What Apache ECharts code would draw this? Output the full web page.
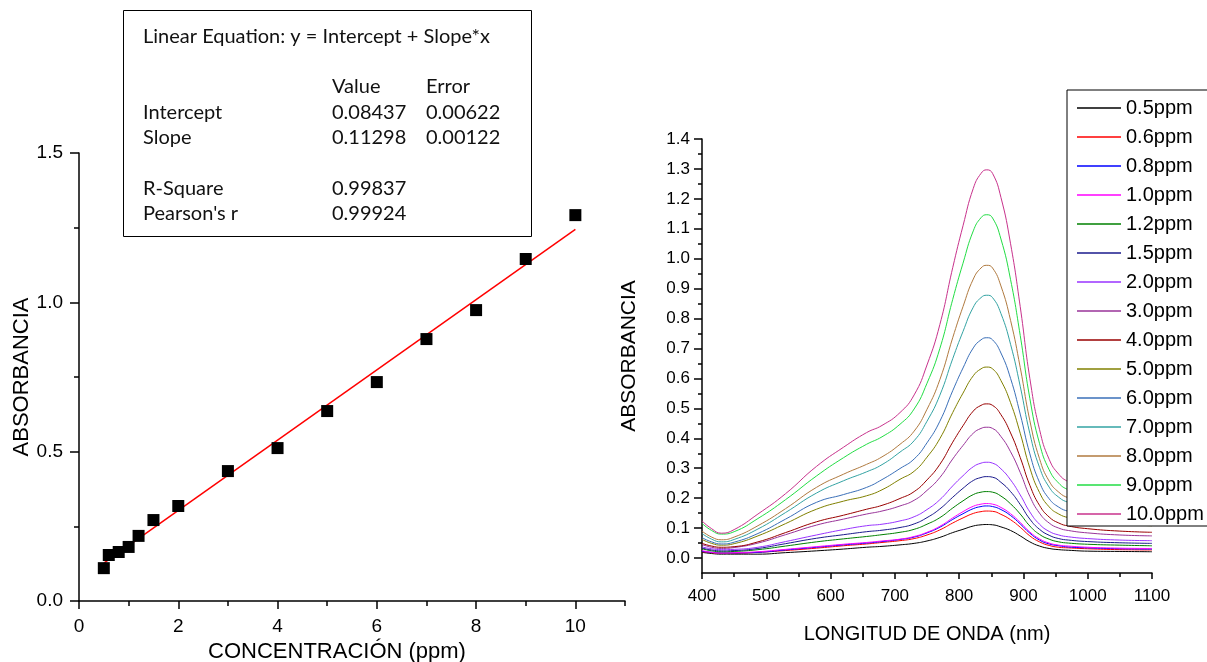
<!DOCTYPE html>
<html><head><meta charset="utf-8">
<script src="https://cdn.jsdelivr.net/npm/echarts@6/dist/echarts.min.js"></script>
<style>html,body{margin:0;padding:0;background:#fff;}#c{width:1207px;height:662px;}</style>
</head><body><div id="c"></div>
<script>
// ---- Left panel: calibration ----
const concentration = [0.5, 0.6, 0.8, 1.0, 1.2, 1.5, 2, 3, 4, 5, 6, 7, 8, 9, 10];
const absorbance = [0.110, 0.154, 0.164, 0.181, 0.218, 0.271, 0.318, 0.435, 0.512, 0.636, 0.733, 0.877, 0.974, 1.145, 1.292];
const fitX = [0.5, 10];
const fitY = [0.127, 1.244];
const leftXTicks = [0, 2, 4, 6, 8, 10];
const leftXMinor = [1, 3, 5, 7, 9, 11];
const fitRows = [
  ['Linear Equation: y = Intercept + Slope*x', '', ''],
  ['', 'Value', 'Error'],
  ['Intercept', '0.08437', '0.00622'],
  ['Slope', '0.11298', '0.00122'],
  ['R-Square', '0.99837', ''],
  ["Pearson's r", '0.99924', '']
];

// ---- Right panel: spectra ----
const wavelength = [400,415,430,450,487,530,578,620,656,680,708,730,750,770,790,806,822,834,843,852,865,880,895,910,925,940,955,970,1000,1050,1100];
const s0_5 = [0.019,0.015,0.013,0.013,0.013,0.018,0.024,0.030,0.036,0.039,0.044,0.049,0.057,0.069,0.085,0.096,0.107,0.111,0.112,0.111,0.104,0.092,0.074,0.054,0.040,0.032,0.028,0.026,0.023,0.022,0.021];
const s0_6 = [0.021,0.018,0.016,0.016,0.019,0.025,0.033,0.041,0.047,0.052,0.058,0.065,0.077,0.094,0.117,0.134,0.149,0.155,0.157,0.156,0.146,0.128,0.103,0.074,0.054,0.042,0.036,0.034,0.031,0.028,0.027];
const s0_8 = [0.022,0.019,0.017,0.017,0.019,0.027,0.036,0.044,0.050,0.055,0.062,0.070,0.084,0.103,0.129,0.148,0.165,0.172,0.174,0.172,0.162,0.142,0.114,0.083,0.060,0.047,0.041,0.037,0.034,0.031,0.030];
const s1_0 = [0.025,0.019,0.017,0.018,0.021,0.029,0.038,0.046,0.052,0.057,0.063,0.072,0.086,0.106,0.134,0.155,0.173,0.180,0.182,0.180,0.169,0.148,0.119,0.087,0.064,0.050,0.043,0.040,0.036,0.033,0.032];
const s1_2 = [0.031,0.024,0.021,0.022,0.028,0.040,0.054,0.064,0.072,0.078,0.086,0.096,0.113,0.135,0.167,0.191,0.212,0.220,0.222,0.220,0.207,0.181,0.147,0.107,0.079,0.063,0.054,0.050,0.046,0.043,0.041];
const s1_5 = [0.033,0.027,0.024,0.025,0.032,0.048,0.066,0.078,0.088,0.093,0.102,0.114,0.135,0.164,0.203,0.233,0.259,0.269,0.272,0.270,0.253,0.222,0.179,0.130,0.096,0.076,0.065,0.060,0.055,0.051,0.049];
const s2_0 = [0.037,0.031,0.028,0.029,0.036,0.055,0.077,0.095,0.108,0.113,0.124,0.138,0.162,0.195,0.241,0.275,0.305,0.317,0.320,0.317,0.298,0.261,0.211,0.154,0.113,0.089,0.077,0.071,0.065,0.060,0.058];
const s3_0 = [0.045,0.036,0.032,0.035,0.050,0.078,0.110,0.130,0.147,0.157,0.174,0.193,0.226,0.269,0.331,0.376,0.417,0.433,0.437,0.433,0.406,0.355,0.286,0.206,0.150,0.117,0.100,0.092,0.084,0.077,0.074];
const s4_0 = [0.049,0.040,0.036,0.038,0.054,0.085,0.121,0.143,0.163,0.176,0.199,0.222,0.261,0.313,0.387,0.442,0.491,0.510,0.515,0.510,0.479,0.418,0.336,0.243,0.176,0.137,0.117,0.107,0.098,0.090,0.086];
const s5_0 = [0.062,0.049,0.043,0.048,0.074,0.115,0.163,0.190,0.208,0.228,0.263,0.290,0.337,0.399,0.486,0.551,0.609,0.632,0.638,0.632,0.593,0.519,0.417,0.301,0.219,0.171,0.147,0.135,0.122,0.113,0.108];
const s6_0 = [0.068,0.054,0.047,0.053,0.082,0.130,0.186,0.212,0.236,0.262,0.299,0.331,0.385,0.457,0.559,0.635,0.702,0.729,0.736,0.729,0.685,0.600,0.481,0.348,0.253,0.198,0.170,0.156,0.141,0.131,0.125];
const s7_0 = [0.082,0.063,0.054,0.062,0.097,0.152,0.217,0.258,0.288,0.312,0.354,0.392,0.457,0.544,0.666,0.757,0.838,0.870,0.878,0.870,0.817,0.714,0.574,0.416,0.303,0.237,0.203,0.186,0.170,0.157,0.150];
const s8_0 = [0.090,0.070,0.061,0.070,0.108,0.165,0.236,0.280,0.313,0.338,0.380,0.424,0.497,0.596,0.736,0.840,0.932,0.969,0.978,0.969,0.909,0.794,0.637,0.459,0.332,0.257,0.220,0.201,0.182,0.167,0.160];
const s9_0 = [0.116,0.092,0.080,0.088,0.132,0.195,0.274,0.335,0.380,0.405,0.447,0.498,0.584,0.700,0.864,0.985,1.093,1.137,1.147,1.136,1.066,0.930,0.744,0.533,0.383,0.295,0.250,0.228,0.206,0.189,0.180];
const s10_0 = [0.124,0.098,0.083,0.095,0.147,0.215,0.306,0.370,0.419,0.443,0.486,0.545,0.645,0.780,0.970,1.110,1.235,1.285,1.297,1.285,1.205,1.050,0.840,0.600,0.430,0.330,0.280,0.255,0.230,0.210,0.200];
const spectraNames = ['0.5ppm','0.6ppm','0.8ppm','1.0ppm','1.2ppm','1.5ppm','2.0ppm','3.0ppm','4.0ppm','5.0ppm','6.0ppm','7.0ppm','8.0ppm','9.0ppm','10.0ppm'];
const spectra = [s0_5, s0_6, s0_8, s1_0, s1_2, s1_5, s2_0, s3_0, s4_0, s5_0, s6_0, s7_0, s8_0, s9_0, s10_0];
const spectraColors = ['#000000','#FF0000','#0000FF','#FF00FF','#008000','#1A1A8C','#9933FF','#993399','#990000','#808000','#3A6FB8','#33A3A3','#B07A3F','#22DD44','#C8328C'];
const rightYTicks = [0,0.1,0.2,0.3,0.4,0.5,0.6,0.7,0.8,0.9,1.0,1.1,1.2,1.3,1.4];
const rightYMinor = [0.05,0.15,0.25,0.35,0.45,0.55,0.65,0.75,0.85,0.95,1.05,1.15,1.25,1.35];

const FONT = 'Liberation Sans';
const BLK = '#000';
const lineBlk = {color: BLK, width: 1.5};

const chart = echarts.init(document.getElementById('c'), null, {renderer: 'canvas'});

const spectraSeries = spectra.map((vals, i) => ({
  type: 'line', name: spectraNames[i], xAxisIndex: 2, yAxisIndex: 1,
  data: wavelength.map((w, k) => [w, vals[k]]),
  symbol: 'none', smooth: 0.5,
  lineStyle: {color: spectraColors[i], width: 1},
  itemStyle: {color: spectraColors[i]},
  z: 2
}));

const colX = [143, 332, 426];
const rowY = [37, 87, 113, 138, 189, 214];
const boxTexts = [];
fitRows.forEach((row, r) => row.forEach((t, c) => {
  if (t) boxTexts.push({type: 'text', left: colX[c], top: rowY[r] - 10, z: 10,
    style: {text: t, fill: '#111', font: '20px Lato', textVerticalAlign: 'top'}});
}));

chart.setOption({
  animation: false,
  backgroundColor: '#fff',
  grid: [
    {left: 79, top: 153, width: 546, height: 448, outerBoundsMode: 'none', containLabel: false},
    {left: 702, top: 139, width: 450, height: 434, outerBoundsMode: 'none', containLabel: false}
  ],
  xAxis: [
    {gridIndex: 0, type: 'value', min: 0, max: 11, position: 'bottom',
     axisLine: {onZero: false, lineStyle: lineBlk},
     axisTick: {customValues: leftXTicks, length: 8, lineStyle: lineBlk},
     axisLabel: {customValues: leftXTicks, margin: 16, fontSize: 19, color: BLK, fontFamily: FONT, formatter: v => String(v)},
     splitLine: {show: false},
     name: 'CONCENTRACIÓN (ppm)', nameLocation: 'middle', nameGap: 39,
     nameTextStyle: {fontSize: 22, color: BLK, fontFamily: FONT, padding: [0, 30, 0, 0]}},
    {gridIndex: 0, type: 'value', min: 0, max: 11, position: 'bottom',
     axisLine: {show: false, onZero: false},
     axisTick: {customValues: leftXMinor, length: 5, lineStyle: lineBlk},
     axisLabel: {show: false}, splitLine: {show: false}},
    {gridIndex: 1, type: 'value', min: 400, max: 1100, interval: 100, position: 'bottom',
     axisLine: {onZero: false, lineStyle: lineBlk},
     axisTick: {length: 6, lineStyle: lineBlk},
     minorTick: {show: true, splitNumber: 2, length: 4, lineStyle: lineBlk},
     axisLabel: {margin: 15, fontSize: 17, color: BLK, fontFamily: FONT, formatter: v => String(v)},
     splitLine: {show: false}, minorSplitLine: {show: false},
     name: 'LONGITUD DE ONDA (nm)', nameLocation: 'middle', nameGap: 51,
     nameTextStyle: {fontSize: 20, color: BLK, fontFamily: FONT}}
  ],
  yAxis: [
    {gridIndex: 0, type: 'value', min: 0, max: 1.5, interval: 0.5, position: 'left',
     axisLine: {show: true, onZero: false, lineStyle: lineBlk},
     axisTick: {show: true, length: 9, lineStyle: lineBlk},
     minorTick: {show: true, splitNumber: 2, length: 5, lineStyle: lineBlk},
     axisLabel: {margin: 16, fontSize: 19, color: BLK, fontFamily: FONT, formatter: v => v.toFixed(1)},
     splitLine: {show: false}, minorSplitLine: {show: false},
     name: 'ABSORBANCIA', nameLocation: 'middle', nameGap: 46, nameRotate: 90,
     nameTextStyle: {fontSize: 22, color: BLK, fontFamily: FONT}},
    {gridIndex: 1, type: 'value', min: -0.05, max: 1.4, position: 'left',
     axisLine: {show: true, onZero: false, lineStyle: lineBlk},
     axisTick: {show: true, customValues: rightYTicks, length: 8, lineStyle: lineBlk},
     axisLabel: {customValues: rightYTicks, margin: 12, fontSize: 17, color: BLK, fontFamily: FONT, formatter: v => v.toFixed(1)},
     splitLine: {show: false},
     name: 'ABSORBANCIA', nameLocation: 'middle', nameGap: 62, nameRotate: 90,
     nameTextStyle: {fontSize: 21, color: BLK, fontFamily: FONT}},
    {gridIndex: 1, type: 'value', min: -0.05, max: 1.4, position: 'left',
     axisLine: {show: false, onZero: false},
     axisTick: {show: true, customValues: rightYMinor, length: 4, lineStyle: lineBlk},
     axisLabel: {show: false}, splitLine: {show: false}}
  ],
  legend: {
    data: spectraNames, orient: 'vertical', left: 1067, top: 90,
    padding: [8, 6, 2, 10], itemGap: 9, itemWidth: 44, itemHeight: 20,
    backgroundColor: '#fff', borderColor: '#000', borderWidth: 1, z: 8,
    textStyle: {fontSize: 20, color: BLK, fontFamily: FONT},
    icon: 'path://M0,9.3L44,9.3L44,10.7L0,10.7Z'
  },
  graphic: [
    {type: 'rect', left: 123, top: 10, z: 9,
     shape: {width: 408, height: 226}, style: {fill: '#fff', stroke: '#000', lineWidth: 1}},
    ...boxTexts
  ],
  series: [
    {type: 'line', name: 'fit', xAxisIndex: 0, yAxisIndex: 0,
     data: fitX.map((x, i) => [x, fitY[i]]), symbol: 'none',
     lineStyle: {color: '#FF0000', width: 1.5}, z: 3},
    {type: 'scatter', name: 'data', xAxisIndex: 0, yAxisIndex: 0,
     data: concentration.map((c, i) => [c, absorbance[i]]),
     symbol: 'rect', symbolSize: 12, itemStyle: {color: '#000', opacity: 1}, z: 4},
    ...spectraSeries
  ]
});
</script></body></html>
